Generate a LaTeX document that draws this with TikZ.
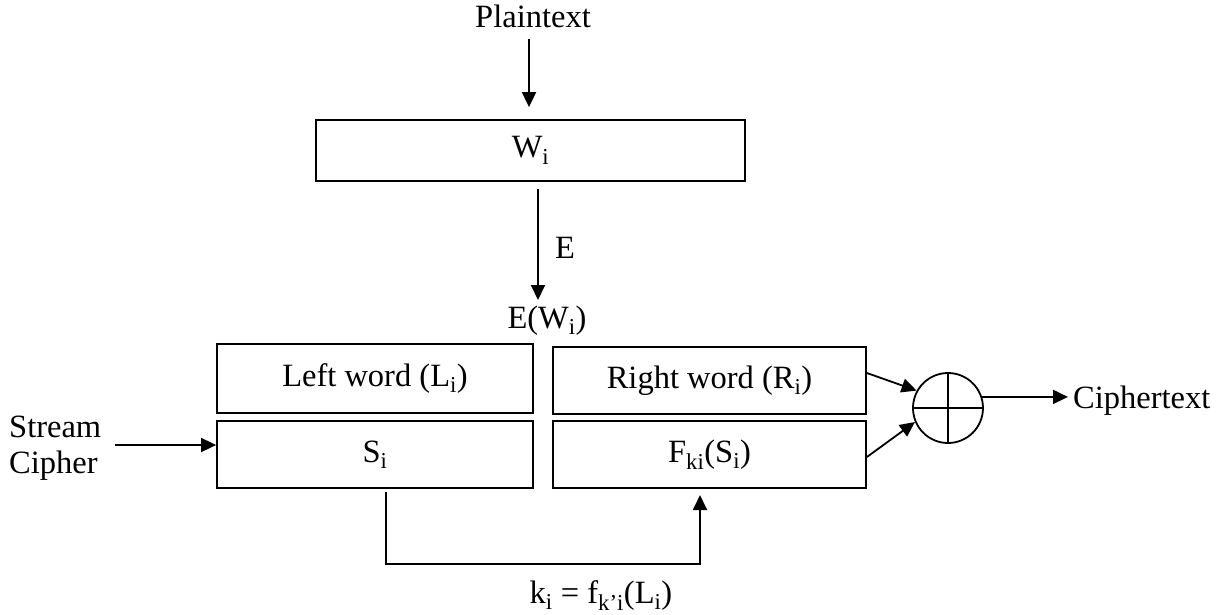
\documentclass[tikz,border=0pt]{standalone}
\usepackage{fontspec}
\setmainfont{Liberation Serif}
\usetikzlibrary{arrows.meta}
\newcommand\lowi[1]{\textsubscript{#1}}
\begin{document}
\begin{tikzpicture}[x=1pt,y=-1pt,
  every node/.style={font=\fontsize{32.5}{36}\selectfont, inner sep=0pt},
  wordbox/.style={draw, line width=1.8pt, minimum height=67pt, align=center},
  wire/.style={line width=1.8pt},
  arr/.style={wire, -{Triangle[length=15pt,width=14pt]}},
  lbl/.style={}]
  \useasboundingbox (0,0) rectangle (1227,614);

  % word and its encryption
  \node[lbl, anchor=base] (plain) at (533,27) {Plaintext};
  \node[wordbox, minimum width=429pt, minimum height=61pt] (W) at (530.5,150.5) {W\lowi{i}};
  \draw[arr] ([xshift=-4pt,yshift=-11pt]plain.south) -- ([xshift=-1.5pt,yshift=12pt]W.north);

  \node[lbl, anchor=base] (EW) at (547,328) {E(W\lowi{i})};
  \coordinate (Etip) at (538,300);
  \draw[arr] ([xshift=7.5pt,yshift=-7pt]W.south) -- (Etip);
  \node[lbl, anchor=base west] (E) at (555,258) {E};

  % the two halves
  \node[wordbox, minimum width=316pt, minimum height=69pt] (L) at (375,378.5) {Left word (L\lowi{i})};
  \node[wordbox, minimum width=316pt] (S) at (375,454.5) {S\lowi{i}};
  \node[wordbox, minimum width=313pt] (R) at (709.5,380.5) {Right word (R\lowi{i})};
  \node[wordbox, minimum width=313pt] (F) at (709.5,454.5) {F\lowi{ki}(S\lowi{i})};

  % stream cipher input
  \node[lbl, anchor=west, align=left] (stream) at (9,448) {Stream\\Cipher};
  \coordinate (sin) at (115,445);
  \draw[arr] (sin) -- (sin -| S.west);

  % key derivation loop
  \coordinate (kstart) at (386,492);
  \coordinate (kend) at (700,495);
  \coordinate (kbend) at (0,564);
  \draw[arr] (kstart) -- (kstart |- kbend) -| (kend);
  \node[lbl, anchor=base] (key) at (601,603) {k\lowi{i} = f\lowi{k’i}(L\lowi{i})};

  % combining
  \node[draw, circle, line width=1.8pt, minimum size=70pt] (X) at (948,408) {};
  \draw[wire] (X.north) -- (X.south) (X.west) -- (X.east);
  \draw[arr] ([yshift=7.5pt]R.east) -- (X.151);
  \draw[arr] ([yshift=-2.5pt]F.east) -- (X.203);

  \node[lbl, anchor=base west] (cipher) at (1073,408) {Ciphertext};
  \draw[arr, shorten >=5pt] (X.18) -- (X.18 -| cipher.west);
\end{tikzpicture}
\end{document}
